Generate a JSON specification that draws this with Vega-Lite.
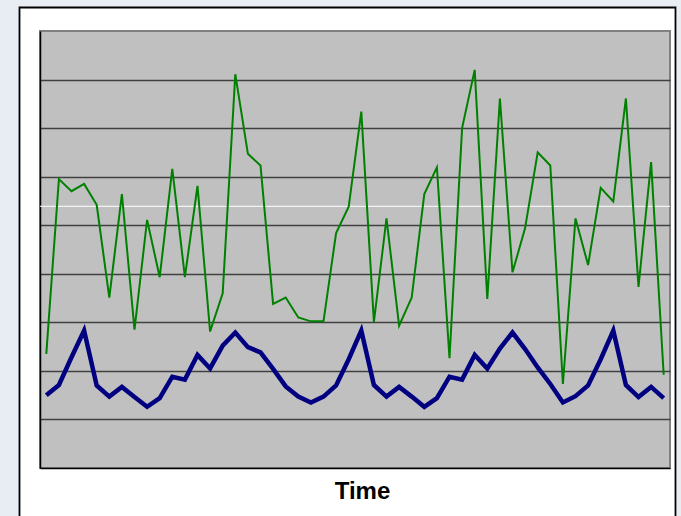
{
  "$schema": "https://vega.github.io/schema/vega-lite/v6.json",
  "width": 630,
  "height": 437,
  "autosize": {"type": "none"},
  "padding": {"left": 40, "top": 31, "right": 11, "bottom": 48},
  "background": "#FFFFFF",
  "config": {
    "view": {"fill": "#C0C0C0", "stroke": "#808080", "strokeWidth": 2},
    "axisX": {"labels": false, "ticks": false, "grid": false, "domainColor": "#000000", "domainWidth": 1.5, "titleFont": "Liberation Sans", "titleFontSize": 24, "titleFontWeight": "bold", "titleColor": "#000000", "titleX": 322, "titleY": 30, "titleAlign": "center", "titleBaseline": "alphabetic"},
    "axisY": {"labels": false, "ticks": false, "grid": true, "gridColor": "#404040", "gridWidth": 1.5, "domainColor": "#000000", "domainWidth": 1.5}
  },
  "datasets": {
    "series": [
      {"t": 1, "g": 2.35, "n": 1.50}, {"t": 2, "g": 5.95, "n": 1.71}, {"t": 3, "g": 5.70, "n": 2.28}, {"t": 4, "g": 5.85, "n": 2.83}, {"t": 5, "g": 5.42, "n": 1.70},
      {"t": 6, "g": 3.51, "n": 1.47}, {"t": 7, "g": 5.64, "n": 1.67}, {"t": 8, "g": 2.85, "n": 1.46}, {"t": 9, "g": 5.11, "n": 1.26}, {"t": 10, "g": 3.93, "n": 1.44},
      {"t": 11, "g": 6.16, "n": 1.88}, {"t": 12, "g": 3.93, "n": 1.82}, {"t": 13, "g": 5.81, "n": 2.33}, {"t": 14, "g": 2.81, "n": 2.05}, {"t": 15, "g": 3.60, "n": 2.52},
      {"t": 16, "g": 8.11, "n": 2.79}, {"t": 17, "g": 6.47, "n": 2.49}, {"t": 18, "g": 6.23, "n": 2.38}, {"t": 19, "g": 3.38, "n": 2.04}, {"t": 20, "g": 3.51, "n": 1.68},
      {"t": 21, "g": 3.10, "n": 1.47}, {"t": 22, "g": 3.02, "n": 1.35}, {"t": 23, "g": 3.02, "n": 1.47}, {"t": 24, "g": 4.84, "n": 1.70}, {"t": 25, "g": 5.38, "n": 2.24},
      {"t": 26, "g": 7.34, "n": 2.83}, {"t": 27, "g": 3.01, "n": 1.71}, {"t": 28, "g": 5.14, "n": 1.47}, {"t": 29, "g": 2.93, "n": 1.67}, {"t": 30, "g": 3.51, "n": 1.47},
      {"t": 31, "g": 5.64, "n": 1.26}, {"t": 32, "g": 6.19, "n": 1.44}, {"t": 33, "g": 2.26, "n": 1.88}, {"t": 34, "g": 7.00, "n": 1.82}, {"t": 35, "g": 8.20, "n": 2.33},
      {"t": 36, "g": 3.48, "n": 2.05}, {"t": 37, "g": 7.61, "n": 2.46}, {"t": 38, "g": 4.03, "n": 2.79}, {"t": 39, "g": 4.94, "n": 2.45}, {"t": 40, "g": 6.50, "n": 2.07},
      {"t": 41, "g": 6.23, "n": 1.73}, {"t": 42, "g": 1.73, "n": 1.35}, {"t": 43, "g": 5.14, "n": 1.48}, {"t": 44, "g": 4.18, "n": 1.70}, {"t": 45, "g": 5.77, "n": 2.24},
      {"t": 46, "g": 5.49, "n": 2.83}, {"t": 47, "g": 7.61, "n": 1.71}, {"t": 48, "g": 3.73, "n": 1.46}, {"t": 49, "g": 6.30, "n": 1.67}, {"t": 50, "g": 1.92, "n": 1.44}
    ]
  },
  "layer": [
    {
      "data": {"values": [{}]},
      "mark": {"type": "rect", "fill": "#E8ECF3"},
      "encoding": {
        "x": {"datum": -3, "type": "quantitative", "scale": {"domain": [0.5, 50.5], "nice": false, "zero": false}},
        "x2": {"datum": -1.13},
        "y": {"datum": 10.5, "type": "quantitative", "scale": {"domain": [0, 9], "nice": false, "zero": false}},
        "y2": {"datum": -2}
      }
    },
    {
      "data": {"values": [{}]},
      "mark": {"type": "rect", "fill": "#E8ECF3"},
      "encoding": {
        "x": {"datum": -3, "type": "quantitative", "scale": {"domain": [0.5, 50.5], "nice": false, "zero": false}},
        "x2": {"datum": 52},
        "y": {"datum": 10.5, "type": "quantitative", "scale": {"domain": [0, 9], "nice": false, "zero": false}},
        "y2": {"datum": 9.484}
      }
    },
    {
      "data": {"values": [{}]},
      "mark": {"type": "rect", "fill": "#E8ECF3"},
      "encoding": {
        "x": {"datum": 51.02, "type": "quantitative", "scale": {"domain": [0.5, 50.5], "nice": false, "zero": false}},
        "x2": {"datum": 52},
        "y": {"datum": 10.5, "type": "quantitative", "scale": {"domain": [0, 9], "nice": false, "zero": false}},
        "y2": {"datum": -2}
      }
    },
    {
      "data": {"values": [{}]},
      "mark": {"type": "rect", "filled": false, "stroke": "#000000", "strokeWidth": 1.8},
      "encoding": {
        "x": {"datum": -1.127, "type": "quantitative", "scale": {"domain": [0.5, 50.5], "nice": false, "zero": false}},
        "x2": {"datum": 50.937},
        "y": {"datum": 9.484, "type": "quantitative", "scale": {"domain": [0, 9], "nice": false, "zero": false}},
        "y2": {"datum": -2}
      }
    },
    {
      "data": {"values": [{}]},
      "mark": {"type": "rule", "color": "#FFFFFF", "strokeWidth": 1},
      "encoding": {
        "y": {"datum": 5.39, "type": "quantitative", "scale": {"domain": [0, 9], "nice": false, "zero": false}}
      }
    },
    {
      "data": {"name": "series"},
      "mark": {"type": "line", "color": "#008000", "strokeWidth": 2},
      "encoding": {
        "x": {"field": "t", "type": "quantitative", "scale": {"domain": [0.5, 50.5], "nice": false, "zero": false}, "axis": {"title": "Time"}},
        "y": {"field": "g", "type": "quantitative", "scale": {"domain": [0, 9], "nice": false, "zero": false}, "axis": {"title": null, "values": [1, 2, 3, 4, 5, 6, 7, 8]}}
      }
    },
    {
      "data": {"name": "series"},
      "mark": {"type": "line", "color": "#000080", "strokeWidth": 4.5},
      "encoding": {
        "x": {"field": "t", "type": "quantitative", "scale": {"domain": [0.5, 50.5], "nice": false, "zero": false}, "axis": {"title": "Time"}},
        "y": {"field": "n", "type": "quantitative", "scale": {"domain": [0, 9], "nice": false, "zero": false}, "axis": {"title": null, "values": [1, 2, 3, 4, 5, 6, 7, 8]}}
      }
    }
  ]
}
